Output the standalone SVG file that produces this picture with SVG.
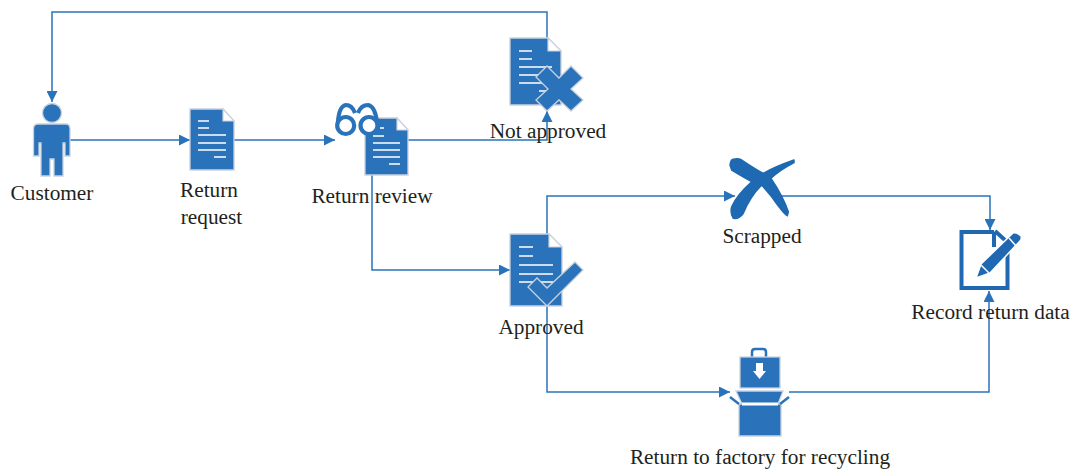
<svg xmlns="http://www.w3.org/2000/svg" width="1074" height="470" viewBox="0 0 1074 470">
<style>
.l{fill:none;stroke:#2a73bb;stroke-width:1.5}
.f{fill:#2a72b9;stroke:#c9d2de;stroke-width:1.3}
.w{fill:none;stroke:#fff;stroke-width:1.6}
.fold{fill:#fff;stroke:#c9d2de;stroke-width:1.2}
text{font-family:"Liberation Serif","Times New Roman",serif;font-size:21.3px;fill:#231f20;text-anchor:middle}
</style>
<defs>
<marker id="a" markerUnits="userSpaceOnUse" markerWidth="12" markerHeight="11" refX="11" refY="5.5" orient="auto"><path d="M0 0L11 5.500L0 11Z" fill="#2a73bb"/></marker>
</defs>
<rect width="1074" height="470" fill="#fff"/>
<g id="connectors">
<path class="l" d="M70 140H190" marker-end="url(#a)"/>
<path class="l" d="M234 140H335" marker-end="url(#a)"/>
<path class="l" d="M408 140H547V111" marker-end="url(#a)"/>
<path class="l" d="M547 38V12H52V102" marker-end="url(#a)"/>
<path class="l" d="M372 175V270H510" marker-end="url(#a)"/>
<path class="l" d="M547 234V196H735" marker-end="url(#a)"/>
<path class="l" d="M547 306V392H730" marker-end="url(#a)"/>
<path class="l" d="M782 196H990V230" marker-end="url(#a)"/>
<path class="l" d="M789 392H989V291" marker-end="url(#a)"/>
</g>
<g id="customer">
<circle class="f" cx="52" cy="113" r="9.5"/>
<path class="f" d="M38 124H66Q70 124 70 129V156H65V143H63V176H54V159H50V176H41V143H39V156H33.500V129Q33.500 124 38 124Z"/>
<text x="52" y="200">Customer</text>
</g>
<g id="return-request">
<path class="f" d="M190 109H223L234 121V170H190Z"/>
<path class="fold" d="M223 109L234 121H223Z"/>
<path class="w" d="M198 121H209M198 128H209M198 135H226M198 143H226M198 150H226M214 157H226"/>
<text x="209" y="197">Return</text>
<text x="211.500" y="224">request</text>
</g>
<g id="return-review">
<path class="f" d="M365 118H397L408 130V175H365Z"/>
<path class="fold" d="M397 118L408 130H397Z"/>
<path class="w" d="M373 143H400M373 150H400M373 157H400M389 164H400M373 136H384M380 128H384"/>
<g fill="#fff" stroke="#2a72b9" stroke-width="4.200">
<path fill="none" d="M338 122Q339 106 346 105Q352 105 355 113M358 113Q361 105 368 105Q375 106 377 122"/>
<circle cx="345.700" cy="125.500" r="8.500"/><circle cx="369" cy="125.500" r="8.500"/>
</g>
<text x="372" y="203">Return review</text>
</g>
<g id="not-approved">
<path class="f" d="M510 38H548L561 51V105H510Z"/>
<path class="fold" d="M548 38L561 51H548Z"/>
<path class="w" d="M519 51H532M519 59H532M519 67H552M519 75H552M519 83H552M539 91H552"/>
<path class="f" d="M547 66L559 78L571 66L583 78L571 89L583 100L571 111L559 100L547 111L536 100L548 89L536 77Z"/>
<text x="548" y="138">Not approved</text>
</g>
<g id="approved">
<path class="f" d="M510 234H549L562 247V306H510Z"/>
<path class="fold" d="M549 234L562 247H549Z"/>
<path class="w" d="M519 247H533M519 256H533M519 265H553M519 274H553M519 282H553"/>
<path class="f" d="M528 287L537 278L547 288L575 262L583 270L547 306Z"/>
<text x="541" y="334">Approved</text>
</g>
<g id="scrapped">
<path fill="#1f69b2" stroke="#1f69b2" stroke-width="1.500" stroke-linejoin="round" d="M730 165Q731 159 733.300 159.300Q738 158 741.700 160Q756.700 170 763.300 173.300Q775 166.700 794 160L794 162.700Q780 170 771 178.300Q783.300 196.700 788.300 211.700L787.300 215.700Q783.300 213.300 771.700 196.700L761.700 185Q750 196.700 743.300 213.300Q739.300 219.300 733.300 218.300Q730 213.300 731.700 206.700Q736.700 195 751.700 181.700Q740 175 731.700 170Z"/>
<text x="762" y="243">Scrapped</text>
</g>
<g id="record-return-data">
<path d="M994 232H961.500V288H1007.500V250M994 232V247M995 231L1006 241" fill="none" stroke="#2069b2" stroke-width="4"/>
<path d="M976 278L981 264L1013 233Q1017 232 1021 236Q1022 239 1020 241L990 273Z" fill="#2069b2" stroke="#fff" stroke-width="1.500"/>
<path d="M981 265L989 273M1009 238L1016 246" stroke="#fff" stroke-width="1.500" fill="none"/>
<text x="990.500" y="319">Record return data</text>
</g>
<g id="return-to-factory">
<path d="M752 357V352Q752 349 755 349H763Q766 349 766 352V357" fill="none" stroke="#2a72b9" stroke-width="2.500"/>
<rect class="f" x="740" y="357" width="40" height="31"/>
<path d="M756 363H763V371H766L759.500 379L753 371H756Z" fill="#fff"/>
<path class="f" d="M736 391H783L778 404H781V436H739V404H742Z"/>
<path d="M742 404H778" stroke="#fff" stroke-width="3"/>
<path d="M730 397L739 404M789 397L780 404" stroke="#2a72b9" stroke-width="2.500"/>
<text x="760" y="464">Return to factory for recycling</text>
</g>
</svg>
